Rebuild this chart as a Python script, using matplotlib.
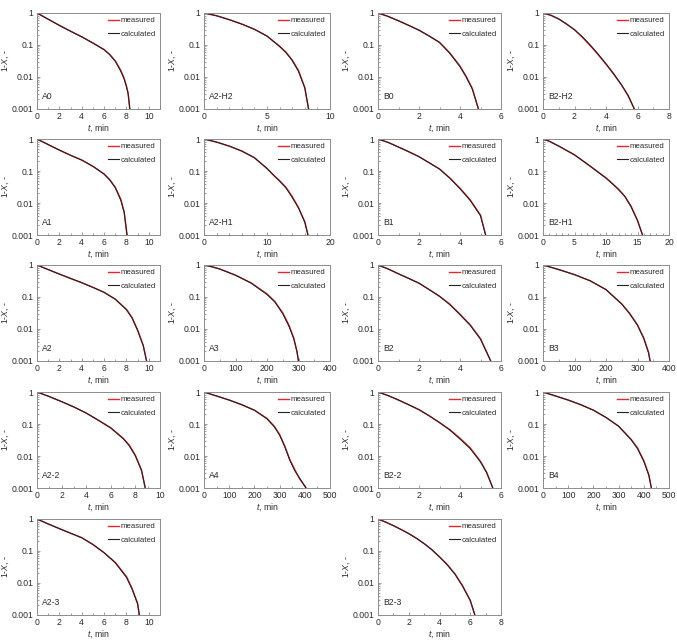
import matplotlib
matplotlib.use('Agg')
import matplotlib.pyplot as plt
from matplotlib.ticker import MultipleLocator, LogLocator, NullFormatter, FixedLocator

plt.rcParams['font.family'] = ['Liberation Sans', 'DejaVu Sans']
plt.rcParams['mathtext.fontset'] = 'custom'
plt.rcParams['mathtext.it'] = 'Liberation Sans:italic'
plt.rcParams['mathtext.rm'] = 'Liberation Sans'

# panel names, in drawing order (row by row)
names = ['A0', 'A2-H2', 'B0', 'B2-H2',
         'A1', 'A2-H1', 'B1', 'B2-H1',
         'A2', 'A3', 'B2', 'B3',
         'A2-2', 'A4', 'B2-2', 'B4',
         'A2-3', 'B2-3']

# x axis: max, major step, minor divisions
xmax = [11, 10, 6, 8, 11, 20, 6, 20, 11, 400, 6, 400, 10, 500, 6, 500, 11, 8]
xstep = [2, 5, 2, 2, 2, 10, 2, 5, 2, 100, 2, 100, 2, 100, 2, 100, 2, 2]
xminor = [2, 5, 2, 2, 2, 5, 2, 5, 2, 2, 2, 2, 2, 2, 2, 2, 2, 2]

# time values (min)
t_A0 = [0, 1, 2, 3, 4, 5, 6, 6.5, 7, 7.5, 7.8, 8.0, 8.15, 8.3]
t_A2H2 = [0, 1, 2, 3, 4, 5, 6, 6.5, 7, 7.5, 8, 8.3]
t_B0 = [0, 0.5, 1, 1.5, 2, 2.5, 3, 3.5, 4, 4.3, 4.6, 4.9]
t_B2H2 = [0, 0.5, 1, 1.5, 2, 2.5, 3, 3.5, 4, 4.5, 5, 5.4, 5.8]
t_A1 = [0, 1, 2, 3, 4, 5, 6, 6.5, 7, 7.5, 7.8, 8.05]
t_A2H1 = [0, 2, 4, 6, 8, 10, 11, 12, 13, 14, 15, 16, 16.5]
t_B1 = [0, 0.5, 1, 1.5, 2, 2.5, 3, 3.5, 4, 4.5, 5, 5.25]
t_B2H1 = [0, 1, 2.5, 5, 7.5, 10, 11, 12, 13, 14, 15, 15.8]
t_A2 = [0, 1, 2, 3, 4, 5, 6, 7, 8, 8.5, 9, 9.5, 9.8]
t_A3 = [0, 25, 50, 100, 150, 200, 225, 250, 270, 285, 295, 300]
t_B2 = [0, 0.5, 1, 1.5, 2, 2.5, 3, 3.5, 4, 4.5, 5, 5.5]
t_B3 = [0, 25, 50, 100, 150, 200, 250, 275, 300, 320, 335, 340]
t_A22 = [0, 1, 2, 3, 4, 5, 6, 7, 7.5, 8, 8.5, 8.8]
t_A4 = [0, 50, 100, 150, 200, 250, 280, 300, 320, 340, 360, 380, 405]
t_B22 = [0, 0.5, 1, 1.5, 2, 2.5, 3, 3.5, 4, 4.5, 5, 5.3, 5.6]
t_B4 = [0, 50, 100, 150, 200, 250, 300, 350, 375, 400, 420, 430]
t_A23 = [0, 1, 2, 3, 4, 5, 6, 7, 8, 8.5, 9, 9.15]
t_B23 = [0, 0.5, 1, 1.5, 2, 2.5, 3, 3.5, 4, 4.5, 5, 5.5, 6, 6.3]

# calculated 1-X
c_A0 = [1, 0.64, 0.41, 0.27, 0.18, 0.115, 0.071, 0.05, 0.031, 0.015, 0.0085, 0.005, 0.003, 0.001]
c_A2H2 = [1, 0.82, 0.62, 0.45, 0.31, 0.19, 0.09, 0.058, 0.033, 0.015, 0.0045, 0.001]
c_B0 = [1, 0.78, 0.57, 0.41, 0.29, 0.19, 0.12, 0.055, 0.021, 0.01, 0.0042, 0.001]
c_B2H2 = [1, 0.85, 0.65, 0.45, 0.3, 0.18, 0.1, 0.052, 0.026, 0.0125, 0.0055, 0.0027, 0.001]
c_A1 = [1, 0.67, 0.45, 0.31, 0.22, 0.14, 0.08, 0.053, 0.03, 0.012, 0.005, 0.001]
c_A2H1 = [1, 0.8, 0.6, 0.42, 0.26, 0.12, 0.075, 0.048, 0.03, 0.015, 0.007, 0.0025, 0.001]
c_B1 = [1, 0.78, 0.56, 0.4, 0.28, 0.18, 0.115, 0.06, 0.028, 0.012, 0.004, 0.001]
c_B2H1 = [1, 0.85, 0.6, 0.32, 0.14, 0.06, 0.04, 0.027, 0.016, 0.0075, 0.0028, 0.001]
c_A2 = [1, 0.72, 0.52, 0.38, 0.28, 0.2, 0.14, 0.085, 0.04, 0.022, 0.009, 0.003, 0.001]
c_A3 = [1, 0.88, 0.75, 0.48, 0.27, 0.12, 0.07, 0.03, 0.012, 0.005, 0.002, 0.001]
c_B2 = [1, 0.75, 0.53, 0.38, 0.27, 0.17, 0.105, 0.058, 0.028, 0.013, 0.0048, 0.001]
c_B3 = [1, 0.85, 0.72, 0.5, 0.32, 0.17, 0.06, 0.03, 0.013, 0.005, 0.0018, 0.001]
c_A22 = [1, 0.72, 0.5, 0.34, 0.22, 0.13, 0.075, 0.035, 0.021, 0.01, 0.0035, 0.001]
c_A4 = [1, 0.75, 0.56, 0.4, 0.27, 0.145, 0.08, 0.045, 0.02, 0.0075, 0.0035, 0.002, 0.001]
c_B22 = [1, 0.77, 0.56, 0.4, 0.28, 0.18, 0.11, 0.065, 0.034, 0.017, 0.0065, 0.003, 0.001]
c_B4 = [1, 0.75, 0.56, 0.4, 0.27, 0.16, 0.085, 0.032, 0.017, 0.0068, 0.0025, 0.001]
c_A23 = [1, 0.7, 0.5, 0.36, 0.26, 0.16, 0.088, 0.043, 0.015, 0.0065, 0.0022, 0.001]
c_B23 = [1, 0.8, 0.62, 0.47, 0.35, 0.25, 0.17, 0.11, 0.065, 0.037, 0.019, 0.008, 0.0028, 0.001]

# measured 1-X
m_A0 = [1, 0.64, 0.41, 0.27, 0.18, 0.116, 0.072, 0.051, 0.032, 0.016, 0.009, 0.0052, 0.0031, 0.001]
m_A2H2 = [1, 0.82, 0.62, 0.45, 0.31, 0.19, 0.092, 0.06, 0.034, 0.016, 0.0047, 0.001]
m_B0 = [1, 0.78, 0.57, 0.41, 0.29, 0.19, 0.121, 0.057, 0.022, 0.0105, 0.0044, 0.001]
m_B2H2 = [1, 0.85, 0.65, 0.45, 0.3, 0.175, 0.095, 0.05, 0.025, 0.012, 0.0055, 0.0026, 0.001]
m_A1 = [1, 0.67, 0.45, 0.31, 0.22, 0.14, 0.081, 0.054, 0.031, 0.013, 0.0052, 0.001]
m_A2H1 = [1, 0.8, 0.6, 0.42, 0.26, 0.12, 0.076, 0.05, 0.031, 0.016, 0.0072, 0.0026, 0.001]
m_B1 = [1, 0.78, 0.56, 0.4, 0.28, 0.18, 0.116, 0.061, 0.029, 0.0125, 0.0042, 0.001]
m_B2H1 = [1, 0.85, 0.6, 0.32, 0.142, 0.061, 0.041, 0.026, 0.016, 0.0078, 0.0029, 0.001]
m_A2 = [1, 0.72, 0.52, 0.38, 0.28, 0.2, 0.14, 0.086, 0.041, 0.023, 0.0093, 0.0031, 0.001]
m_A3 = [1, 0.88, 0.75, 0.48, 0.275, 0.125, 0.072, 0.032, 0.013, 0.0052, 0.002, 0.001]
m_B2 = [1, 0.75, 0.53, 0.38, 0.27, 0.17, 0.106, 0.06, 0.029, 0.0135, 0.005, 0.001]
m_B3 = [1, 0.85, 0.72, 0.5, 0.32, 0.17, 0.061, 0.031, 0.0135, 0.0052, 0.0019, 0.001]
m_A22 = [1, 0.72, 0.5, 0.34, 0.22, 0.13, 0.076, 0.036, 0.022, 0.0105, 0.0036, 0.001]
m_A4 = [1, 0.75, 0.56, 0.4, 0.27, 0.15, 0.083, 0.047, 0.021, 0.008, 0.0038, 0.0019, 0.001]
m_B22 = [1, 0.77, 0.56, 0.4, 0.28, 0.18, 0.112, 0.067, 0.036, 0.018, 0.0068, 0.0031, 0.001]
m_B4 = [1, 0.75, 0.56, 0.4, 0.27, 0.16, 0.086, 0.033, 0.018, 0.0072, 0.0026, 0.001]
m_A23 = [1, 0.7, 0.5, 0.36, 0.26, 0.16, 0.089, 0.044, 0.016, 0.0068, 0.0023, 0.001]
m_B23 = [1, 0.8, 0.62, 0.47, 0.35, 0.25, 0.17, 0.11, 0.066, 0.038, 0.0195, 0.0082, 0.0029, 0.001]

t_all = [t_A0, t_A2H2, t_B0, t_B2H2, t_A1, t_A2H1, t_B1, t_B2H1, t_A2, t_A3, t_B2, t_B3,
         t_A22, t_A4, t_B22, t_B4, t_A23, t_B23]
c_all = [c_A0, c_A2H2, c_B0, c_B2H2, c_A1, c_A2H1, c_B1, c_B2H1, c_A2, c_A3, c_B2, c_B3,
         c_A22, c_A4, c_B22, c_B4, c_A23, c_B23]
m_all = [m_A0, m_A2H2, m_B0, m_B2H2, m_A1, m_A2H1, m_B1, m_B2H1, m_A2, m_A3, m_B2, m_B3,
         m_A22, m_A4, m_B22, m_B4, m_A23, m_B23]

W, H = 677, 641
fig = plt.figure(figsize=(W / 100, H / 100), dpi=100)

col_left = [37, 204, 378, 543]
col_w = [123, 126, 123, 126]
row_top = [13, 139, 265, 392, 519]
ax_h = 96
# grid slots (row, col) for each panel
slots = [(r, c) for r in range(4) for c in range(4)] + [(4, 0), (4, 2)]

grey = '#8c8c8c'
txt = '#2a2a2a'
fs = 6.2

for i, name in enumerate(names):
    r, c = slots[i]
    ax = fig.add_axes([col_left[c] / W, 1 - (row_top[r] + ax_h) / H, col_w[c] / W, ax_h / H])
    ax.plot(t_all[i], m_all[i], color='#e8242c', lw=1.0, label='measured')
    ax.plot(t_all[i], c_all[i], color='#222222', lw=0.8, label='calculated')
    ax.set_yscale('log')
    ax.set_ylim(0.001, 1)
    ax.set_xlim(0, xmax[i])
    ax.xaxis.set_major_locator(MultipleLocator(xstep[i]))
    ax.xaxis.set_minor_locator(MultipleLocator(xstep[i] / xminor[i]))
    ax.yaxis.set_major_locator(FixedLocator([0.001, 0.01, 0.1, 1]))
    ax.set_yticklabels(['0.001', '0.01', '0.1', '1'])
    ax.yaxis.set_minor_locator(LogLocator(base=10, subs=range(2, 10)))
    ax.yaxis.set_minor_formatter(NullFormatter())
    ax.tick_params(which='both', direction='in', colors=grey, labelcolor=txt,
                   labelsize=fs, width=0.6, pad=2.5)
    ax.tick_params(which='major', length=2.5)
    ax.tick_params(which='minor', length=1.5)
    for s in ax.spines.values():
        s.set_color(grey)
        s.set_linewidth(0.7)
    ax.set_xlabel(r'$t$, min', fontsize=fs, color=txt, labelpad=1)
    ax.set_ylabel(r'1-$X$, -', fontsize=fs, color=txt, labelpad=0.5)
    ax.text(0.04, 0.1, name, transform=ax.transAxes, fontsize=fs, color=txt)
    ax.legend(loc='upper right', frameon=False, fontsize=5.6, handlelength=1.4,
              handletextpad=0.2, borderaxespad=0.1, labelspacing=0.75,
              labelcolor=txt)

fig.savefig('out.png', dpi=100)
